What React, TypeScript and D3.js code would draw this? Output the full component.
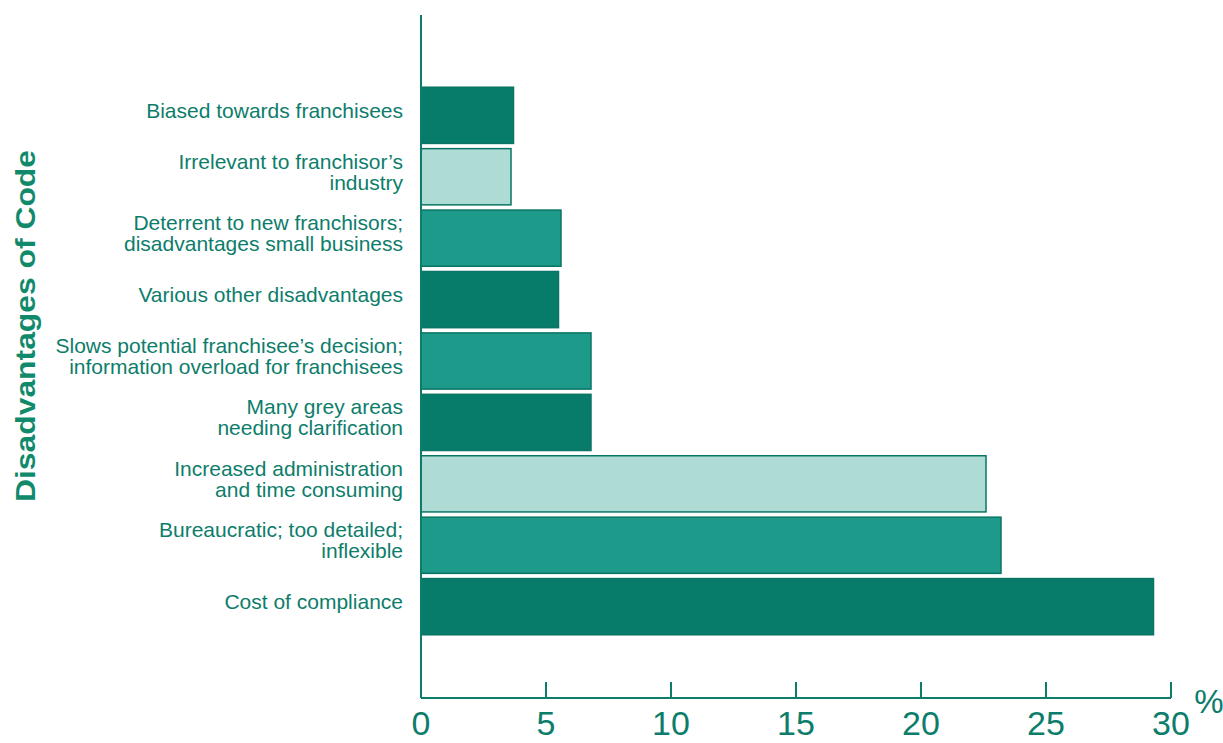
import React from "react";
import * as d3 from "d3";

const categories: string[][] = [
  ["Biased towards franchisees"],
  ["Irrelevant to franchisor’s", "industry"],
  ["Deterrent to new franchisors;", "disadvantages small business"],
  ["Various other disadvantages"],
  ["Slows potential franchisee’s decision;", "information overload for franchisees"],
  ["Many grey areas", "needing clarification"],
  ["Increased administration", "and time consuming"],
  ["Bureaucratic; too detailed;", "inflexible"],
  ["Cost of compliance"],
];
const values: number[] = [3.7, 3.6, 5.6, 5.5, 6.8, 6.8, 22.6, 23.2, 29.3];
const shades: string[] = ["dark", "light", "medium", "dark", "medium", "dark", "light", "medium", "dark"];
const ticks: number[] = [0, 5, 10, 15, 20, 25, 30];
const axisTitle = "Disadvantages of Code";

const fills: Record<string, string> = { dark: "#077c6b", medium: "#1d9a8a", light: "#aedbd4" };
const ink = "#0d7d6b";

export default function App() {
  const W = 1223, H = 743;
  const x0 = 421, x1 = 1171, baseY = 698;
  const x = d3.scaleLinear().domain([0, 30]).range([x0, x1]);
  const ids = categories.map((_, i) => String(i));
  const y = d3.scaleBand().domain(ids).range([86, 636]).paddingInner(0.085).paddingOuter(0.02);
  const font = "'Liberation Sans', Arial, Helvetica, sans-serif";
  return (
    <svg width={W} height={H} style={{ position: "absolute", left: 0, top: 0, background: "#fff" }}>
      {categories.map((c, i) => {
        const yy = y(String(i))!;
        const bh = y.bandwidth();
        return (
          <rect key={"b" + i} x={x(0)} y={yy} width={x(values[i]) - x(0)} height={bh}
            fill={fills[shades[i]]} stroke="#0a7564" strokeWidth={1.5} />
        );
      })}
      {categories.map((c, i) => {
        const cy = y(String(i))! + y.bandwidth() / 2 - 5;
        const lh = 21;
        const start = cy - ((c.length - 1) * lh) / 2;
        return (
          <text key={"t" + i} x={403} textAnchor="end" fontFamily={font} fontSize={21} fill={ink}>
            {c.map((l, j) => (
              <tspan key={j} x={403} y={start + j * lh} dy="0.35em">{l}</tspan>
            ))}
          </text>
        );
      })}
      <line x1={x0} x2={x0} y1={15} y2={baseY} stroke={ink} strokeWidth={2} />
      <line x1={x0} x2={x1} y1={baseY} y2={baseY} stroke={ink} strokeWidth={2} />
      {ticks.map((t) => (
        <g key={"k" + t}>
          {t > 0 && <line x1={x(t)} x2={x(t)} y1={baseY} y2={baseY - 16} stroke={ink} strokeWidth={2} />}
          <text x={x(t)} y={735} textAnchor="middle" fontFamily={font} fontSize={34} fill={ink}>{t}</text>
        </g>
      ))}
      <text x={1209} y={713} textAnchor="middle" fontFamily={font} fontSize={33} fill={ink}>%</text>
      <text transform={`translate(35,${326}) rotate(-90)`} textAnchor="middle" fontFamily={font}
        fontSize={27} fontWeight="bold" fill="#118a6c" textLength={352} lengthAdjust="spacingAndGlyphs">{axisTitle}</text>
    </svg>
  );
}
